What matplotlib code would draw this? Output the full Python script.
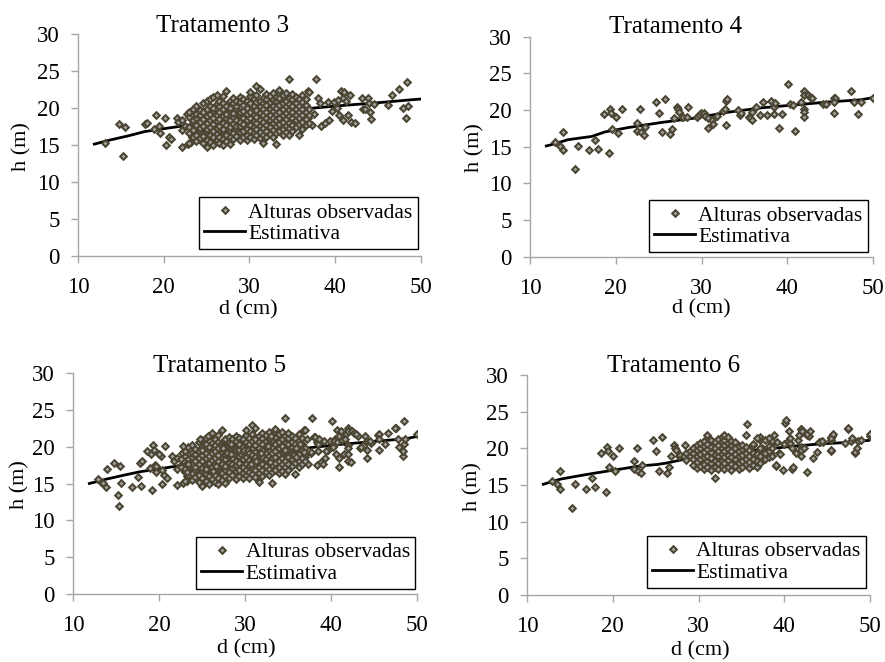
import matplotlib
matplotlib.use("Agg")
import matplotlib.pyplot as plt

plt.rcParams['font.family'] = ['Liberation Serif', 'DejaVu Serif']

W, H = 885, 662

# observed heights, scattered trees (d in cm, h in m)
obs3_sparse = [
    (13.2, 15.2), (14.8, 17.8), (15.5, 17.4), (15.2, 13.5), (17.8, 17.8), (18.0, 18.0),
    (19.1, 19.0), (18.9, 17.1), (19.5, 17.5), (20.2, 18.7), (19.6, 16.6), (20.3, 15.0),
    (20.6, 16.1), (20.9, 15.8), (21.5, 18.7), (21.7, 18.1), (22.1, 18.4), (22.1, 17.0),
    (22.1, 14.75), (22.5, 17.5), (22.8, 15.1), (23.2, 15.4), (23.3, 16.0), (22.7, 19.2),
    (36.8, 22.3), (37.8, 23.9), (38.0, 21.3), (38.4, 17.5), (38.8, 17.9), (39.2, 20.8),
    (39.3, 18.4), (39.9, 20.8), (40.2, 20.0), (40.4, 21.1), (40.5, 19.0), (40.7, 22.3),
    (40.9, 21.4), (41.1, 22.1), (40.9, 18.4), (41.3, 20.9), (41.5, 19.0), (41.7, 21.7),
    (41.9, 18.1), (42.3, 17.9), (43.1, 21.4), (43.3, 19.8), (43.5, 19.9), (43.9, 21.4),
    (44.0, 20.7), (44.1, 19.5), (44.2, 18.5), (44.6, 20.5), (46.2, 20.4), (46.6, 21.8),
    (47.5, 22.6), (47.9, 20.0), (48.4, 23.5), (48.3, 18.7), (48.5, 20.3), (37.3, 17.7),
    (37.6, 19.2), (38.3, 20.6), (39.6, 19.6), (36.9, 18.6),
]

# dense part of Tratamento 3, grouped by diameter
obs3_cloud = [
    (23.0, [15.3, 16.6, 17.4, 18.8, 19.4]),
    (23.4, [16.1, 17.0, 17.9, 18.3, 19.9]),
    (23.8, [15.5, 16.4, 17.7, 18.6, 19.2, 20.2]),
    (24.2, [15.9, 16.9, 17.3, 18.1, 19.0, 19.7]),
    (24.6, [15.2, 16.2, 17.6, 18.5, 19.4, 20.6]),
    (25.0, [14.7, 15.7, 16.7, 17.1, 18.0, 18.9, 19.9, 20.9]),
    (25.4, [15.4, 16.3, 17.4, 18.4, 19.2, 20.3, 21.2]),
    (25.8, [15.0, 16.0, 16.9, 17.8, 18.7, 19.6, 20.0, 21.5]),
    (26.2, [15.6, 16.5, 17.3, 18.2, 19.1, 20.5, 21.8]),
    (26.5, [15.2, 16.1, 17.6, 18.5, 19.4, 20.2, 21.0]),
    (26.9, [15.0, 15.8, 16.8, 17.2, 18.0, 18.9, 19.8, 20.7, 21.6]),
    (27.3, [15.5, 16.4, 17.7, 18.6, 19.2, 20.3, 22.3]),
    (27.7, [15.1, 16.0, 16.9, 17.4, 18.3, 19.6, 20.0, 21.0]),
    (28.1, [15.8, 16.6, 17.8, 18.8, 19.3, 20.6, 21.3]),
    (28.5, [16.2, 17.1, 17.6, 18.4, 19.8, 20.2, 21.0]),
    (28.9, [15.6, 16.7, 17.5, 18.1, 19.0, 19.5, 20.8, 21.5]),
    (29.3, [16.0, 16.9, 17.8, 18.7, 19.6, 20.4, 21.2]),
    (29.7, [15.7, 16.4, 17.2, 18.3, 19.2, 20.0, 21.0]),
    (30.1, [16.1, 16.9, 17.7, 18.6, 19.4, 20.6, 21.6, 22.2]),
    (30.5, [15.8, 16.6, 17.4, 18.2, 19.0, 19.9, 20.3, 21.2]),
    (30.8, [16.3, 17.1, 17.9, 18.8, 19.7, 20.8, 21.7, 23.0]),
    (31.2, [15.9, 16.8, 17.6, 18.4, 19.3, 20.2, 21.0, 22.5]),
    (31.6, [15.2, 16.4, 17.3, 18.1, 19.0, 19.8, 20.6, 21.4]),
    (32.0, [16.0, 16.9, 17.7, 18.6, 19.5, 20.4, 21.2, 21.9]),
    (32.4, [16.5, 17.4, 18.3, 19.1, 19.9, 20.8, 21.6]),
    (32.8, [16.1, 17.0, 17.9, 18.7, 19.6, 20.3, 21.1, 22.0]),
    (33.1, [15.1, 16.6, 17.5, 18.4, 19.2, 20.0, 20.9, 21.5]),
    (33.5, [16.9, 17.8, 18.6, 19.4, 20.4, 21.3, 22.4]),
    (33.9, [16.4, 17.2, 18.1, 19.0, 19.8, 20.6, 21.7]),
    (34.3, [16.7, 17.6, 18.5, 19.3, 20.2, 21.0, 22.0]),
    (34.6, [16.3, 17.3, 18.0, 18.9, 19.7, 20.5, 21.4, 23.9]),
    (35.0, [16.9, 17.7, 18.6, 19.5, 20.3, 21.2, 21.9]),
    (35.4, [17.4, 18.3, 19.1, 19.9, 20.7, 21.5]),
    (35.8, [16.3, 17.8, 18.6, 19.4, 20.3, 21.2]),
    (36.2, [17.2, 18.1, 19.0, 19.8, 20.8, 21.7]),
    (36.6, [17.7, 18.5, 19.5, 20.4, 21.2]),
    (37.0, [18.0, 19.0, 19.8, 22.2]),
]

obs4 = [
    (12.9, 15.6), (13.5, 15.1), (13.8, 14.5), (13.9, 16.96), (15.3, 11.9), (15.6, 15.1),
    (16.9, 14.5), (17.6, 15.9), (17.9, 14.7), (18.6, 19.4), (19.2, 14.1), (19.3, 20.2),
    (19.4, 19.6), (19.6, 17.4), (20.0, 19.0), (20.7, 20.1), (20.3, 16.9), (22.5, 18.3),
    (22.5, 17.2), (22.8, 20.1), (23.0, 16.96), (23.3, 16.6), (23.4, 17.7), (24.7, 21.1),
    (25.0, 19.6), (25.4, 16.96), (25.7, 21.5), (26.3, 16.7), (26.6, 17.4), (26.8, 18.9),
    (27.2, 20.4), (27.3, 20.1), (27.4, 19.8), (27.7, 19.0), (27.9, 19.1), (28.3, 19.0),
    (28.4, 20.4), (29.5, 19.0), (29.7, 19.3), (29.9, 19.6), (30.3, 19.6), (30.4, 19.2),
    (30.7, 17.6), (30.8, 18.9), (31.2, 18.6), (31.3, 18.1), (31.8, 19.2), (32.5, 19.9),
    (32.7, 20.1), (32.9, 21.2), (33.0, 21.5), (32.9, 17.96), (34.3, 20.05), (34.5, 19.3),
    (34.6, 19.6), (35.5, 19.0), (35.7, 18.9), (35.9, 18.6), (35.9, 19.8), (36.4, 20.4),
    (36.8, 19.3), (37.2, 21.1), (37.6, 19.3), (38.1, 21.3), (38.5, 20.4), (38.6, 21.0),
    (38.5, 19.4), (39.0, 17.6), (39.4, 19.4), (40.1, 23.5), (40.3, 20.8), (40.7, 20.7),
    (40.9, 17.2), (41.6, 21.1), (41.9, 22.6), (42.0, 22.1), (42.0, 20.2), (42.0, 19.8),
    (42.0, 19.0), (42.4, 22.1), (42.7, 21.8), (42.9, 21.7), (44.2, 20.8), (44.5, 20.8),
    (45.4, 21.6), (45.6, 21.7), (45.5, 21.1), (45.5, 19.6), (47.4, 22.6), (47.8, 21.05),
    (48.3, 19.4), (48.6, 21.05), (50.0, 21.7),
]

# Tratamento 6: the trees of Tratamento 4 plus these
obs6_extra_sparse = [
    (35.7, 23.3), (37.2, 21.6), (37.4, 20.0), (38.8, 21.8), (39.0, 17.7), (39.9, 17.0),
    (40.2, 23.9), (40.5, 22.3), (40.7, 21.4), (40.9, 20.0), (41.0, 17.5), (41.4, 19.3),
    (41.7, 21.8), (41.9, 22.7), (42.1, 22.4), (42.3, 20.0), (42.6, 16.8), (42.7, 22.0),
    (43.0, 22.3), (43.4, 18.7), (43.8, 19.5), (44.1, 20.9), (44.4, 21.0), (45.4, 19.8),
    (45.5, 21.4), (45.7, 22.0), (47.1, 20.7), (47.4, 22.8), (47.9, 21.4), (48.3, 19.5),
    (48.5, 20.0), (48.9, 21.1), (50.0, 22.0), (39.5, 19.2), (40.0, 20.6), (39.2, 20.9),
]

obs6_cloud = [
    (28.6, [18.4, 19.3]),
    (29.0, [18.9, 19.7]),
    (29.4, [17.7, 18.5, 19.3, 20.1]),
    (29.8, [17.3, 18.2, 18.9, 19.8, 20.4]),
    (30.2, [17.6, 18.5, 19.2, 20.0, 20.7]),
    (30.6, [17.2, 17.9, 18.8, 19.5, 20.3, 21.0]),
    (31.0, [17.5, 18.3, 19.0, 19.9, 20.6, 21.8]),
    (31.4, [17.1, 18.0, 18.7, 19.5, 20.2, 21.2]),
    (31.9, [16.0, 17.5, 18.3, 19.1, 20.0, 20.8]),
    (32.3, [17.2, 18.0, 18.9, 19.6, 20.4, 21.3]),
    (32.7, [17.6, 18.3, 19.2, 20.1, 20.8, 21.5]),
    (33.0, [17.2, 18.0, 18.8, 19.6, 20.5, 21.2, 21.8]),
    (33.4, [17.4, 18.4, 19.1, 19.9, 20.7, 21.5]),
    (33.8, [17.1, 17.9, 18.8, 19.6, 20.4, 21.0]),
    (34.2, [17.6, 18.5, 19.2, 20.0, 20.8]),
    (34.7, [17.2, 18.0, 18.9, 19.6, 20.3]),
    (35.1, [17.5, 18.3, 19.1, 19.9, 20.5]),
    (35.5, [17.9, 18.6, 19.4, 20.2, 21.8]),
    (35.9, [17.3, 18.2, 19.0, 19.8]),
    (36.3, [17.7, 18.5, 19.4, 20.6]),
    (36.8, [17.5, 18.3, 19.2, 21.4]),
    (37.2, [18.0, 18.9, 20.0]),
    (37.7, [18.5, 19.3, 21.1]),
    (38.2, [18.8, 19.6, 20.3, 21.4]),
    (38.6, [19.0, 20.1]),
]

# fitted heights
est3_d = [11.9, 13.9, 15.8, 17.8, 20.1, 22.5, 25.0, 28.0, 31.0, 33.5, 35.9, 37.2, 41.1, 45.0, 48.9, 50.0]
est3_h = [15.1, 15.7, 16.2, 16.8, 17.2, 17.6, 18.1, 18.6, 19.0, 19.3, 19.7, 19.95, 20.35, 20.7, 21.1, 21.2]
est4_d = [11.9, 12.9, 14.4, 17.2, 18.7, 21.4, 25.3, 29.2, 33.1, 37.0, 40.9, 44.8, 48.6, 50.0]
est4_h = [15.1, 15.4, 15.95, 16.4, 17.0, 17.6, 18.3, 18.9, 19.7, 20.3, 20.7, 21.1, 21.4, 21.7]
est5_d = [11.9, 13.9, 15.8, 17.8, 20.1, 22.8, 25.5, 28.5, 31.5, 34.5, 37.1, 41.0, 44.9, 48.8, 50.0]
est5_h = [15.0, 15.6, 16.1, 16.6, 17.0, 17.5, 18.0, 18.5, 18.9, 19.3, 19.8, 20.3, 20.7, 21.1, 21.4]
est6_d = [11.9, 13.9, 15.8, 17.8, 20.5, 23.2, 25.2, 26.3, 28.3, 31.0, 34.0, 37.2, 41.1, 44.2, 47.3, 50.0]
est6_h = [15.1, 15.8, 16.2, 16.6, 17.1, 17.6, 17.8, 18.0, 18.5, 18.9, 19.4, 19.8, 20.3, 20.6, 20.8, 21.1]


def expand(cloud):
    return [(d, h) for d, hs in cloud for h in hs]


pts3 = obs3_sparse + expand(obs3_cloud)
pts4 = obs4
pts5 = pts3 + pts4
pts6 = obs4 + obs6_extra_sparse + expand(obs6_cloud)


def px_rect(l, t, r, b):
    return [l / W, 1 - b / H, (r - l) / W, (b - t) / H]


panels = [
    # title, points, fit, axes box (px), title centre/baseline, xlabel, ylabel, legend anchor
    ("Tratamento 3", pts3, (est3_d, est3_h), (78, 34, 420.7, 255.7), (223, 32), (248, 310), (22, 147), (0.992, 0.030)),
    ("Tratamento 4", pts4, (est4_d, est4_h), (530, 36.7, 873, 256.7), (676, 33), (701, 309), (475, 148), (0.985, 0.021)),
    ("Tratamento 5", pts5, (est5_d, est5_h), (73, 373, 417.3, 594), (220, 372), (246, 649), (20, 485), (0.994, 0.023)),
    ("Tratamento 6", pts6, (est6_d, est6_h), (527, 375, 870, 595), (674, 372), (700, 651), (473, 487), (0.988, 0.032)),
]

fig = plt.figure(figsize=(W / 100, H / 100), dpi=100)

for title, pts, (ed, eh), box, tpos, xl, yl, lanchor in panels:
    ax = fig.add_axes(px_rect(*box))
    d = [p[0] for p in pts]
    h = [p[1] for p in pts]
    ax.plot(d, h, linestyle='none', marker='D', markersize=3.4,
            markerfacecolor='#a3a3a3', markeredgecolor='#4b4532', markeredgewidth=1.45,
            label='Alturas observadas', zorder=3)
    ax.plot(ed, eh, color='black', linewidth=2.0, label='Estimativa', zorder=2)

    ax.set_xlim(10, 50)
    ax.set_ylim(0, 30)
    ax.set_xticks([10, 20, 30, 40, 50])
    ax.set_yticks([0, 5, 10, 15, 20, 25, 30])
    for s in ['top', 'right']:
        ax.spines[s].set_visible(False)
    for s in ['left', 'bottom']:
        ax.spines[s].set_color('#a6a6a6')
        ax.spines[s].set_linewidth(1.0)
    ax.tick_params(direction='out', length=5, width=1.0, color='#a6a6a6',
                   labelsize=16.5, labelcolor='black')
    ax.tick_params(axis='y', pad=8)
    ax.tick_params(axis='x', pad=10)

    leg = ax.legend(loc='lower right', bbox_to_anchor=lanchor, borderaxespad=0,
                    fontsize=15.5, frameon=True, fancybox=False, framealpha=1,
                    edgecolor='black', handlelength=1.9, handletextpad=0.15,
                    borderpad=0.25, labelspacing=0.05)
    leg.get_frame().set_linewidth(1.0)

    fig.text(tpos[0] / W, 1 - tpos[1] / H, title, ha='center', va='baseline', fontsize=18)
    fig.text(xl[0] / W, 1 - xl[1] / H, 'd (cm)', ha='center', va='center', fontsize=16)
    fig.text(yl[0] / W, 1 - yl[1] / H, 'h (m)', ha='center', va='center', fontsize=16, rotation=90)

fig.savefig('out.png', dpi=100)
